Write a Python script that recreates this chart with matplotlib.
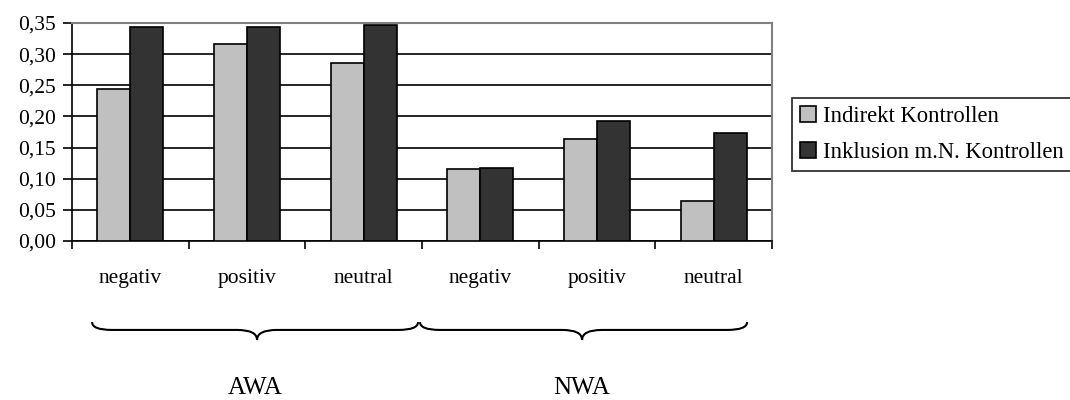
import matplotlib
matplotlib.use("Agg")
import matplotlib.pyplot as plt
import numpy as np
from matplotlib.path import Path
from matplotlib.patches import PathPatch
from matplotlib.ticker import FuncFormatter

plt.rcParams['font.family'] = ['Liberation Serif', 'DejaVu Serif']

# values per condition
categories = ['negativ', 'positiv', 'neutral', 'negativ', 'positiv', 'neutral']
groups = ['AWA', 'NWA']
indirekt = [0.244, 0.317, 0.285, 0.115, 0.163, 0.064]
inklusion = [0.343, 0.343, 0.347, 0.118, 0.192, 0.173]
series_names = ['Indirekt Kontrollen', 'Inklusion m.N. Kontrollen']

fig = plt.figure(figsize=(10.7, 4.0), dpi=100)
ax = fig.add_axes([0.0673, 0.3975, 0.6542, 0.545])

x = np.arange(len(categories))
w = 0.283
ax.bar(x - w / 2, indirekt, w, color='#c0c0c0', edgecolor='black', linewidth=1.2,
       label=series_names[0], zorder=3)
ax.bar(x + w / 2, inklusion, w, color='#333333', edgecolor='black', linewidth=1.2,
       label=series_names[1], zorder=3)

ax.set_xlim(-0.5, len(categories) - 0.5)
ax.set_ylim(0, 0.35)
ax.set_yticks(np.arange(0, 0.351, 0.05))
ax.yaxis.set_major_formatter(FuncFormatter(lambda v, p: f'{v:.2f}'.replace('.', ',')))
ax.grid(axis='y', color='black', linewidth=1.2, zorder=0)

# tick marks at the category boundaries, labels set separately
ax.set_xticks(np.arange(-0.5, len(categories), 1.0))
ax.set_xticklabels([])
ax.tick_params(axis='x', direction='out', length=6, width=1.2, color='black')
ax.tick_params(axis='y', direction='out', length=6.5, width=1.2, labelsize=15.5, pad=5)

for side in ['top', 'right']:
    ax.spines[side].set_color('#808080')
    ax.spines[side].set_linewidth(1.5)
for side in ['left', 'bottom']:
    ax.spines[side].set_color('black')
    ax.spines[side].set_linewidth(1.2)

trans = ax.get_xaxis_transform()
for xi, name in zip(x, categories):
    ax.text(xi, -0.17, name, transform=trans, ha='center', va='center',
            fontsize=15.5, clip_on=False)


def brace(x0, x1, xm, ytop, ymid, ytip, curl):
    verts = [
        (x0, ytop), (x0, ymid), (x0 + curl, ymid),
        (xm - curl, ymid), (xm, ymid), (xm, ytip),
        (xm, ymid), (xm + curl, ymid),
        (x1 - curl, ymid), (x1, ymid), (x1, ytop),
    ]
    codes = [
        Path.MOVETO, Path.CURVE3, Path.CURVE3,
        Path.LINETO, Path.CURVE3, Path.CURVE3,
        Path.CURVE3, Path.CURVE3,
        Path.LINETO, Path.CURVE3, Path.CURVE3,
    ]
    ax.add_patch(PathPatch(Path(verts, codes), facecolor='none', edgecolor='black',
                           linewidth=1.5, transform=trans, clip_on=False))


brace(-0.328, 2.466, 1.086, -0.372, -0.408, -0.454, 0.17)
brace(2.483, 5.286, 3.872, -0.372, -0.408, -0.454, 0.17)

for gx, g in zip([1.07, 3.87], groups):
    ax.text(gx, -0.674, g, transform=trans, ha='center', va='center',
            fontsize=18, clip_on=False)

leg = fig.legend(loc='upper left', bbox_to_anchor=(792 / 1070, 1 - 98 / 400),
                 fontsize=16.3, frameon=True, fancybox=False, borderpad=0.35,
                 handlelength=0.7, handleheight=0.7, handletextpad=0.3,
                 labelspacing=0.65, borderaxespad=0)
leg.get_frame().set_edgecolor('black')
leg.get_frame().set_linewidth(1.3)

fig.savefig('out.png', dpi=100)
